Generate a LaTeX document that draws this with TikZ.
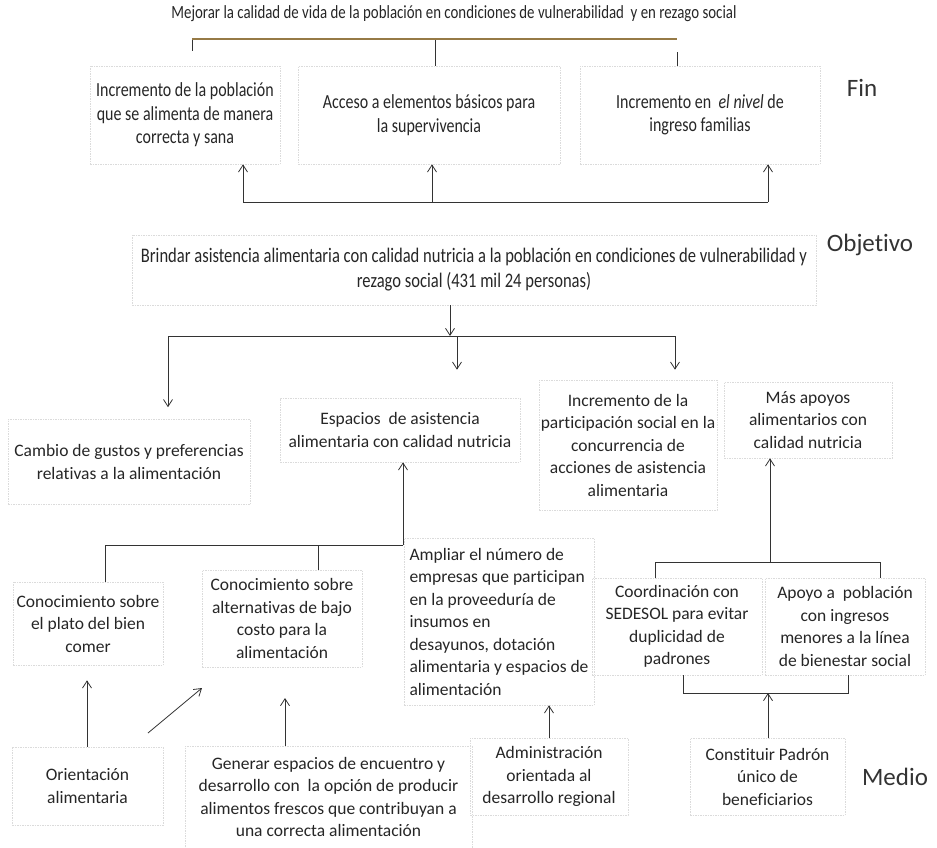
\documentclass[tikz,border=0pt]{standalone}
\usepackage{fontspec}
\setmainfont{Carlito}[Ligatures=NoCommon]
\newfontfamily\angosta[FakeStretch=0.8, Ligatures=NoCommon]{Carlito}
\usetikzlibrary{arrows.meta}
\definecolor{cafe}{RGB}{150,122,70}

\tikzset{
  caja/.style={draw=black!14, dash pattern=on 1.5pt off 1pt, line width=0.6pt, align=center, inner sep=0pt,
    text=black!85, font=\fontsize{17.5}{22.5}\selectfont},
  cajaalta/.style={caja, font=\angosta\fontsize{20}{23.5}\selectfont},
  nivel/.style={text=black!80, font=\fontsize{25}{28}\selectfont},
  linea/.style={draw=black!80, line width=0.8pt},
  flecha/.style={linea, -{Straight Barb[length=7pt,width=9pt]}},
}

\begin{document}
\begin{tikzpicture}[x=1pt, y=-1pt]
  \useasboundingbox (0,0) rectangle (937,847);

  % fin
  \node[text=black!85, font=\angosta\fontsize{18.6}{20}\selectfont] (meta) at (454,14)
    {Mejorar la calidad de vida de la población en condiciones de vulnerabilidad\ \ y en rezago social};
  \node[cajaalta, minimum width=190, minimum height=98] (fin1) at (185,115)
    {Incremento de la población\\que se alimenta de manera\\correcta y sana};
  \node[cajaalta, minimum width=262, minimum height=98] (fin2) at (429,115)
    {Acceso a elementos básicos para\\la supervivencia};
  \node[cajaalta, minimum width=240, minimum height=98] (fin3) at (700,115)
    {Incremento en\ \ \textit{el nivel} de\\ingreso familias};
  \node[nivel] (lblfin) at (862,88) {Fin};

  \coordinate (m1) at (192,39);
  \coordinate (m2) at (435,39);
  \coordinate (m3) at (677,39);
  \draw[linea] (m1) -- (m1 |- 0,51);
  \draw[linea] (m2) -- (m2 |- fin2.north);
  \draw[linea] (677,52) -- (m3 |- fin3.north);
  \draw[cafe, line width=1.6pt] (m1) -- (m3);

  \coordinate (f1) at (243,202);
  \coordinate (f2) at (432,202);
  \coordinate (f3) at (768,202);
  \draw[linea] (f1) -- (f3);
  \foreach \c/\n in {f1/fin1, f2/fin2, f3/fin3}
    \draw[flecha] (\c) -- (\c |- \n.south);

  % objetivo
  \node[caja, font=\angosta\fontsize{20.7}{25}\selectfont, minimum width=684, minimum height=70] (objetivo) at (474,270)
    {Brindar asistencia alimentaria con calidad nutricia a la población en condiciones de vulnerabilidad y\\rezago social (431 mil 24 personas)};
  \node[nivel] (lblobj) at (870,245) {Objetivo};

  \coordinate (o0) at (450,336);
  \coordinate (o1) at (168,336);
  \coordinate (o2) at (457,336);
  \coordinate (o3) at (675,336);
  \draw[flecha] (objetivo.south -| o0) -- (o0);
  \draw[linea] (o1) -- (o3);

  \node[caja, minimum width=242, minimum height=85] (cambio) at (129,462)
    {Cambio de gustos y preferencias\\relativas a la alimentación};
  \node[caja, minimum width=240, minimum height=64] (espacios) at (400,430)
    {Espacios\ \ de asistencia\\alimentaria con calidad nutricia};
  \node[caja, minimum width=178, minimum height=130] (incremento) at (628,445)
    {Incremento de la\\participación social en la\\concurrencia de\\acciones de asistencia\\alimentaria};
  \node[caja, minimum width=168, minimum height=76] (mas) at (808,420)
    {Más apoyos\\alimentarios con\\calidad nutricia};

  \draw[flecha, shorten >=12pt] (o1) -- (o1 |- cambio.north);
  \draw[flecha, shorten >=28pt] (o2) -- (o2 |- espacios.north);
  \draw[flecha, shorten >=10pt] (o3) -- (o3 |- incremento.north);

  % medio
  \node[caja, minimum width=150, minimum height=83] (plato) at (88,623.5)
    {Conocimiento sobre\\el plato del bien\\comer};
  \node[caja, minimum width=160, minimum height=97] (alternativas) at (282,618.5)
    {Conocimiento sobre\\alternativas de bajo\\costo para la\\alimentación};
  \node[caja, align=left, minimum width=190, minimum height=167] (ampliar) at (499,621.5)
    {Ampliar el número de\\empresas que participan\\en la proveeduría de\\insumos en\\desayunos, dotación\\alimentaria y espacios de\\alimentación};
  \node[caja, minimum width=170, minimum height=97] (coordinacion) at (677,626.5)
    {Coordinación con\\SEDESOL para evitar\\duplicidad de\\padrones};
  \node[caja, minimum width=160, minimum height=97] (apoyo) at (845,626.5)
    {Apoyo a\ \ población\\con ingresos\\menores a la línea\\de bienestar social};

  \coordinate (e1) at (105,545);
  \coordinate (e2) at (318,545);
  \coordinate (e3) at (403,545);
  \draw[linea] (e1 |- plato.north) -- (e1) -- (e3);
  \draw[linea] (e2) -- (e2 |- alternativas.north);
  \draw[flecha] (e3) -- (e3 |- espacios.south);

  \coordinate (a1) at (655,562);
  \coordinate (a2) at (880,562);
  \coordinate (a0) at (770,562);
  \draw[linea] (a1 |- coordinacion.north) -- (a1) -- (a2) -- (a2 |- apoyo.north);
  \draw[flecha] (a0) -- (a0 |- mas.south);

  \node[caja, minimum width=151, minimum height=78] (orientacion) at (87.5,786)
    {Orientación\\alimentaria};
  \node[caja, minimum width=287, minimum height=102] (generar) at (328.5,797)
    {Generar espacios de encuentro y\\desarrollo con\ \ la opción de producir\\alimentos frescos que contribuyan a\\una correcta alimentación};
  \node[caja, minimum width=158, minimum height=77] (admin) at (549,776.5)
    {Administración\\orientada al\\desarrollo regional};
  \node[caja, minimum width=155, minimum height=77] (constituir) at (767.5,776.5)
    {Constituir Padrón\\único de\\beneficiarios};
  \node[nivel] (lblmedio) at (895,777) {Medio};

  \coordinate (d0) at (148,733);
  \coordinate (d1) at (202,688);
  \coordinate (g1) at (285,698);
  \coordinate (b1) at (683,693);
  \coordinate (b2) at (848,693);
  \coordinate (b0) at (768,693);
  \draw[flecha, shorten >=15pt] (orientacion.north -| 87,0) -- (87,0 |- plato.south);
  \draw[flecha] (d0) -- (d1);
  \draw[flecha] (generar.north -| g1) -- (g1);
  \draw[flecha] (admin.north) -- (admin.north |- ampliar.south);
  \draw[linea] (b1 |- coordinacion.south) -- (b1) -- (b2) -- (b2 |- apoyo.south);
  \draw[flecha] (constituir.north -| b0) -- (b0);
\end{tikzpicture}
\end{document}
